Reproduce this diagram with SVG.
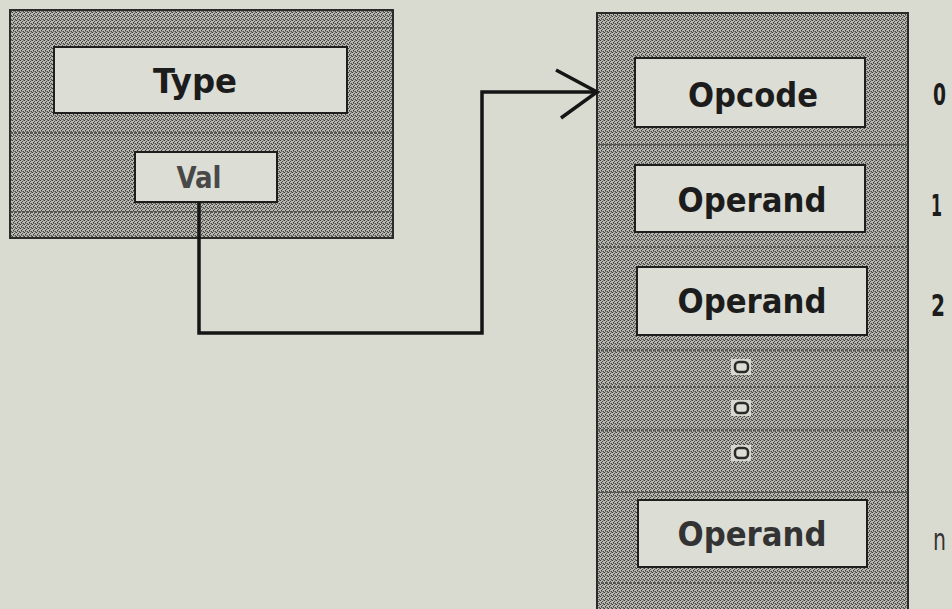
<svg xmlns="http://www.w3.org/2000/svg" width="952" height="609" viewBox="0 0 952 609">
<defs>
<pattern id="tex" width="4" height="4" patternUnits="userSpaceOnUse">
<rect width="4" height="4" fill="#b9b9b1"/>
<rect x="0" y="0" width="1" height="1" fill="#3a3a3a"/>
<rect x="2" y="1" width="1" height="1" fill="#4a4a4a"/>
<rect x="1" y="2" width="1" height="1" fill="#3a3a3a"/>
<rect x="3" y="3" width="1" height="1" fill="#4a4a4a"/>
<rect x="3" y="0" width="1" height="1" fill="#77776f"/>
<rect x="1" y="3" width="1" height="1" fill="#77776f"/>
<rect x="2" y="3" width="1" height="1" fill="#8a8a84"/>
</pattern>
</defs>
<style>
.outer{fill:url(#tex);stroke:#2a2a2a;stroke-width:2}
.cell{fill:#dcddd4;stroke:#1e1e1e;stroke-width:2}
.sep{stroke:#4a4a48;stroke-width:1.5;stroke-dasharray:3 1}
.lbl{font-family:"DejaVu Sans Condensed","DejaVu Sans",sans-serif;font-weight:bold;fill:#1c1c1c;font-size:33px;text-anchor:middle}
.idx{font-family:"DejaVu Sans Condensed","DejaVu Sans",sans-serif;font-weight:bold;fill:#1c1c1c;font-size:31px}
.conn{fill:none;stroke:#151515;stroke-width:3.5;stroke-linejoin:miter}
.dot{fill:#dcddd4;stroke:#2a2a2a;stroke-width:2.5}
</style>
<rect width="952" height="609" fill="#d9dbd1"/>

<g id="record">
<rect class="outer" x="10" y="10" width="383" height="228"/>
<line class="sep" x1="10" y1="28" x2="393" y2="28"/>
<line class="sep" x1="10" y1="133" x2="393" y2="133"/>
<line class="sep" x1="10" y1="212" x2="393" y2="212"/>
<g id="type">
<rect class="cell" x="54" y="47" width="293" height="66"/>
<text class="lbl" x="195" y="93" textLength="84" lengthAdjust="spacingAndGlyphs">Type</text>
</g>
<g id="val">
<rect class="cell" x="135" y="152" width="142" height="50"/>
<text class="lbl" x="199" y="188" style="fill:#484848;font-size:30px" textLength="45" lengthAdjust="spacingAndGlyphs">Val</text>
</g>
</g>

<g id="instruction">
<rect class="outer" x="597" y="13" width="311" height="600"/>
<line class="sep" x1="597" y1="145" x2="908" y2="145"/>
<line class="sep" x1="597" y1="247" x2="908" y2="247"/>
<line class="sep" x1="597" y1="350" x2="908" y2="350"/>
<line class="sep" x1="597" y1="387" x2="908" y2="387"/>
<line class="sep" x1="597" y1="430" x2="908" y2="430"/>
<line class="sep" x1="597" y1="492" x2="908" y2="492"/>
<line class="sep" x1="597" y1="583" x2="908" y2="583"/>
<g id="opcode">
<rect class="cell" x="635" y="58" width="230" height="69"/>
<text class="lbl" x="753" y="107" textLength="130" lengthAdjust="spacingAndGlyphs">Opcode</text>
</g>
<g id="operand1">
<rect class="cell" x="635" y="165" width="230" height="67"/>
<text class="lbl" x="752" y="212" textLength="149" lengthAdjust="spacingAndGlyphs">Operand</text>
</g>
<g id="operand2">
<rect class="cell" x="637" y="267" width="230" height="68"/>
<text class="lbl" x="752" y="313" textLength="149" lengthAdjust="spacingAndGlyphs">Operand</text>
</g>
<g id="ellipsis">
<rect x="731" y="359" width="20" height="16" fill="#d6d7ce"/>
<rect x="731" y="400" width="20" height="16" fill="#d6d7ce"/>
<rect x="731" y="445" width="20" height="16" fill="#d6d7ce"/>
<rect class="dot" x="735" y="362" width="13" height="10" rx="4"/>
<rect class="dot" x="735" y="403" width="13" height="10" rx="4"/>
<rect class="dot" x="735" y="448" width="13" height="10" rx="4"/>
</g>
<g id="operandn">
<rect class="cell" x="638" y="500" width="229" height="67"/>
<text class="lbl" x="752" y="546" style="fill:#333" textLength="149" lengthAdjust="spacingAndGlyphs">Operand</text>
</g>
</g>

<g id="indices">
<text class="idx" x="933" y="105" textLength="13" lengthAdjust="spacingAndGlyphs">0</text>
<text class="idx" x="931" y="216" textLength="11" lengthAdjust="spacingAndGlyphs">1</text>
<text class="idx" x="931" y="316" textLength="14" lengthAdjust="spacingAndGlyphs">2</text>
<text class="idx" x="933" y="550" textLength="13" lengthAdjust="spacingAndGlyphs" style="font-weight:normal;fill:#333">n</text>
</g>

<g id="connectors">
<path class="conn" d="M199,202 V333 H482 V92 H596" stroke-width="3"/>
<path class="conn" d="M556,70 L597,92 L561,118"/>
</g>
</svg>
